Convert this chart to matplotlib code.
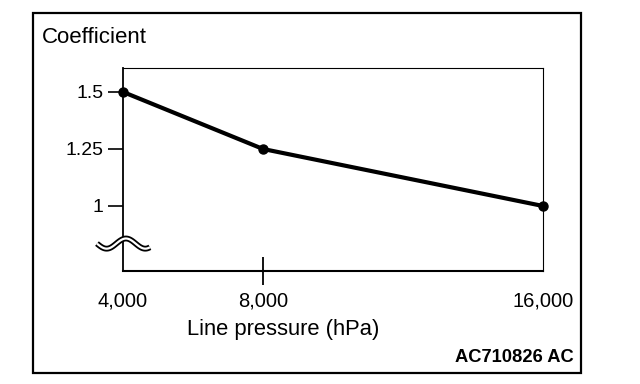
import numpy as np
import matplotlib
matplotlib.use('Agg')
import matplotlib.pyplot as plt
from matplotlib.patches import Rectangle

plt.rcParams['font.family'] = ['Liberation Sans', 'DejaVu Sans']

# Datos
pressure = [4000, 8000, 16000]
coefficient = [1.5, 1.25, 1.0]
y_ticks = [1.0, 1.25, 1.5]
y_labels = ['1', '1.25', '1.5']
x_labels = ['4,000', '8,000', '16,000']

fig = plt.figure(figsize=(6.4, 3.84), dpi=100)
ax = fig.add_axes([0.1922, 0.2943, 0.6562, 0.5286])

ax.plot(pressure, coefficient, color='black', lw=3, marker='o', ms=6.5,
        solid_capstyle='round', clip_on=False, zorder=5)

ax.set_xlim(4000, 16000)
ax.set_ylim(0.715, 1.605)

ax.set_yticks(y_ticks)
ax.set_yticklabels(y_labels, fontsize=14)
ax.tick_params(axis='y', direction='out', length=11, width=1.2, pad=3)

ax.set_xticks(pressure)
ax.set_xticklabels(x_labels, fontsize=14.5)
ax.tick_params(axis='x', direction='inout', length=20, width=1.3, pad=5)
# solo la marca de 8,000 es visible
for i, t in enumerate(ax.xaxis.get_major_ticks()):
    if i != 1:
        t.tick1line.set_visible(False)

ax.spines['left'].set_linewidth(1.3)
ax.spines['bottom'].set_linewidth(1.5)
ax.spines['top'].set_linewidth(0.8)
ax.spines['right'].set_linewidth(0.8)

ax.set_xlabel('Line pressure (hPa)', fontsize=15.8)
ax.xaxis.set_label_coords(0.381, -0.236)

# simbolo de corte del eje
xs = np.linspace(-0.062, 0.064, 100)
ys = 0.135 + 0.025 * np.sin((xs + 0.062) / 0.092 * 2 * np.pi + np.pi)
ax.plot(xs, ys, transform=ax.transAxes, color='black', lw=4.2,
        clip_on=False, zorder=6, solid_capstyle='butt')
ax.plot(xs, ys, transform=ax.transAxes, color='white', lw=1.6,
        clip_on=False, zorder=7, solid_capstyle='butt')

fig.text(0.066, 0.903, 'Coefficient', fontsize=16, va='center', ha='left')
fig.text(0.897, 0.07, 'AC710826 AC', fontsize=13.2, fontweight='bold',
         va='center', ha='right')

fig.patches.append(Rectangle((0.0516, 0.0286), 0.8562, 0.9374,
                             transform=fig.transFigure, fill=False,
                             lw=1.6, edgecolor='black'))

fig.savefig('out.png', dpi=100)
